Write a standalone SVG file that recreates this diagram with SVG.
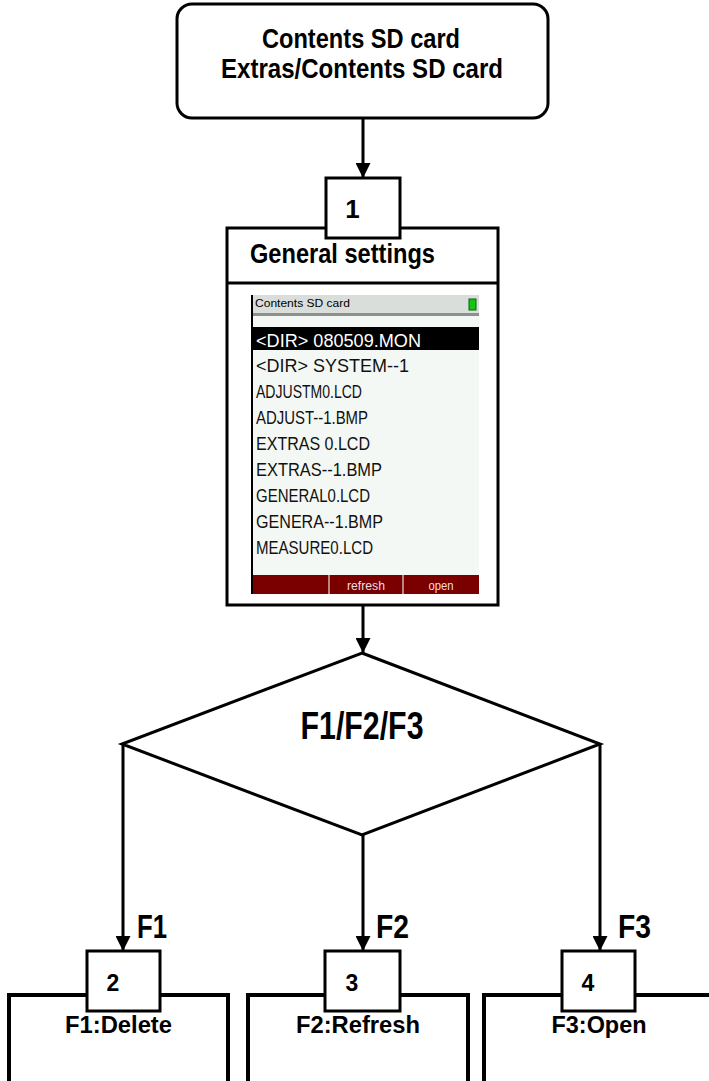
<svg xmlns="http://www.w3.org/2000/svg" width="709" height="1081" viewBox="0 0 709 1081">
<defs>
<style>
.box{fill:#fff;stroke:#000;stroke-width:3}
.big{fill:#fff;stroke:#000;stroke-width:4}
.t{font-family:"Liberation Sans",Arial,sans-serif;font-weight:bold;fill:#000}
.conn{stroke:#000;stroke-width:3;fill:none}
.lcd{font-family:"Liberation Sans",Arial,sans-serif;font-size:17.5px;fill:#111}
</style>
<marker id="ah" markerUnits="userSpaceOnUse" markerWidth="15" markerHeight="15" refX="15" refY="7.5" orient="auto">
<path d="M0,0 L15,7.5 L0,15 z" fill="#000"/>
</marker>
</defs>
<rect width="709" height="1081" fill="#fff"/>

<g id="connectors">
<line class="conn" x1="363" y1="118" x2="363" y2="178" marker-end="url(#ah)"/>
<line class="conn" x1="363" y1="605" x2="363" y2="653" marker-end="url(#ah)"/>
<line class="conn" x1="123" y1="744" x2="123" y2="951" marker-end="url(#ah)"/>
<line class="conn" x1="363" y1="835" x2="363" y2="951" marker-end="url(#ah)"/>
<line class="conn" x1="600" y1="744" x2="600" y2="951" marker-end="url(#ah)"/>
<text class="t" x="137" y="938" font-size="33" textLength="30" lengthAdjust="spacingAndGlyphs">F1</text>
<text class="t" x="376" y="938" font-size="33" textLength="33" lengthAdjust="spacingAndGlyphs">F2</text>
<text class="t" x="618" y="938" font-size="33" textLength="33" lengthAdjust="spacingAndGlyphs">F3</text>
</g>

<g id="start">
<rect class="box" x="177" y="4" width="371" height="114" rx="15" ry="15"/>
<text class="t" x="361" y="48" font-size="27" text-anchor="middle" textLength="198" lengthAdjust="spacingAndGlyphs">Contents SD card</text>
<text class="t" x="362" y="78" font-size="27" text-anchor="middle" textLength="282" lengthAdjust="spacingAndGlyphs">Extras/Contents SD card</text>
</g>

<g id="node1">
<rect class="box" x="227" y="228" width="271" height="377"/>
<line x1="227" y1="283" x2="498" y2="283" stroke="#000" stroke-width="3"/>
<rect class="box" x="326" y="178" width="74" height="60"/>
<text class="t" x="352.5" y="218" font-size="26" text-anchor="middle">1</text>
<text class="t" x="250" y="263" font-size="28" textLength="185" lengthAdjust="spacingAndGlyphs">General settings</text>
<g id="screen">
<rect x="252" y="295" width="227" height="299" fill="#f4f8f4"/>
<rect x="252" y="295" width="227" height="18" fill="#dadeda"/>
<rect x="252" y="313" width="227" height="3" fill="#8e908e"/>
<rect x="469" y="299" width="7" height="11" fill="#12c612" stroke="#0a600a" stroke-width="1"/>
<text x="255" y="307" font-family="Liberation Sans,Arial,sans-serif" font-size="11" fill="#000" textLength="95" lengthAdjust="spacingAndGlyphs">Contents SD card</text>
<rect x="252" y="327" width="227" height="23" fill="#000"/>
<text class="lcd" x="256" y="347" style="fill:#fff" textLength="165" lengthAdjust="spacingAndGlyphs">&lt;DIR&gt; 080509.MON</text>
<text class="lcd" x="256" y="372" textLength="153" lengthAdjust="spacingAndGlyphs">&lt;DIR&gt; SYSTEM--1</text>
<text class="lcd" x="256" y="398" textLength="106" lengthAdjust="spacingAndGlyphs">ADJUSTM0.LCD</text>
<text class="lcd" x="256" y="424" textLength="112" lengthAdjust="spacingAndGlyphs">ADJUST--1.BMP</text>
<text class="lcd" x="256" y="450" textLength="114" lengthAdjust="spacingAndGlyphs">EXTRAS  0.LCD</text>
<text class="lcd" x="256" y="476" textLength="126" lengthAdjust="spacingAndGlyphs">EXTRAS--1.BMP</text>
<text class="lcd" x="256" y="502" textLength="114" lengthAdjust="spacingAndGlyphs">GENERAL0.LCD</text>
<text class="lcd" x="256" y="528" textLength="127" lengthAdjust="spacingAndGlyphs">GENERA--1.BMP</text>
<text class="lcd" x="256" y="554" textLength="117" lengthAdjust="spacingAndGlyphs">MEASURE0.LCD</text>
<rect x="252" y="575" width="227" height="19" fill="#7a0000"/>
<line x1="329" y1="575" x2="329" y2="594" stroke="#d8b0b0" stroke-width="1.5"/>
<line x1="403" y1="575" x2="403" y2="594" stroke="#d8b0b0" stroke-width="1.5"/>
<text x="366" y="590" font-family="Liberation Sans,Arial,sans-serif" font-size="12" fill="#f4dcdc" text-anchor="middle" textLength="38" lengthAdjust="spacingAndGlyphs">refresh</text>
<text x="441" y="590" font-family="Liberation Sans,Arial,sans-serif" font-size="12" fill="#f4dcdc" text-anchor="middle" textLength="25" lengthAdjust="spacingAndGlyphs">open</text>
<line x1="252" y1="295" x2="252" y2="594" stroke="#000" stroke-width="2"/>
</g>
</g>

<g id="decision">
<polygon points="362,653 600,744 362,835 122,744" fill="#fff" stroke="#000" stroke-width="3" stroke-linejoin="miter"/>
<text class="t" x="362" y="739" font-size="39" text-anchor="middle" textLength="123" lengthAdjust="spacingAndGlyphs">F1/F2/F3</text>
</g>

<g id="node2">
<path class="big" d="M9,1085 V995 H228 V1085" fill="#fff"/>
<rect class="box" x="87" y="951" width="73" height="60"/>
<text class="t" x="113" y="991" font-size="23" text-anchor="middle">2</text>
<text class="t" x="118.5" y="1033" font-size="24" text-anchor="middle" textLength="107" lengthAdjust="spacingAndGlyphs">F1:Delete</text>
</g>

<g id="node3">
<path class="big" d="M248,1085 V995 H468 V1085" fill="#fff"/>
<rect class="box" x="325" y="951" width="75" height="60"/>
<text class="t" x="352" y="991" font-size="23" text-anchor="middle">3</text>
<text class="t" x="358" y="1033" font-size="24" text-anchor="middle" textLength="124" lengthAdjust="spacingAndGlyphs">F2:Refresh</text>
</g>

<g id="node4">
<path class="big" d="M484,1085 V995 H715" fill="#fff"/>
<rect class="box" x="562" y="951" width="73" height="60"/>
<text class="t" x="588" y="991" font-size="23" text-anchor="middle">4</text>
<text class="t" x="599" y="1033" font-size="24" text-anchor="middle" textLength="95" lengthAdjust="spacingAndGlyphs">F3:Open</text>
</g>
</svg>
